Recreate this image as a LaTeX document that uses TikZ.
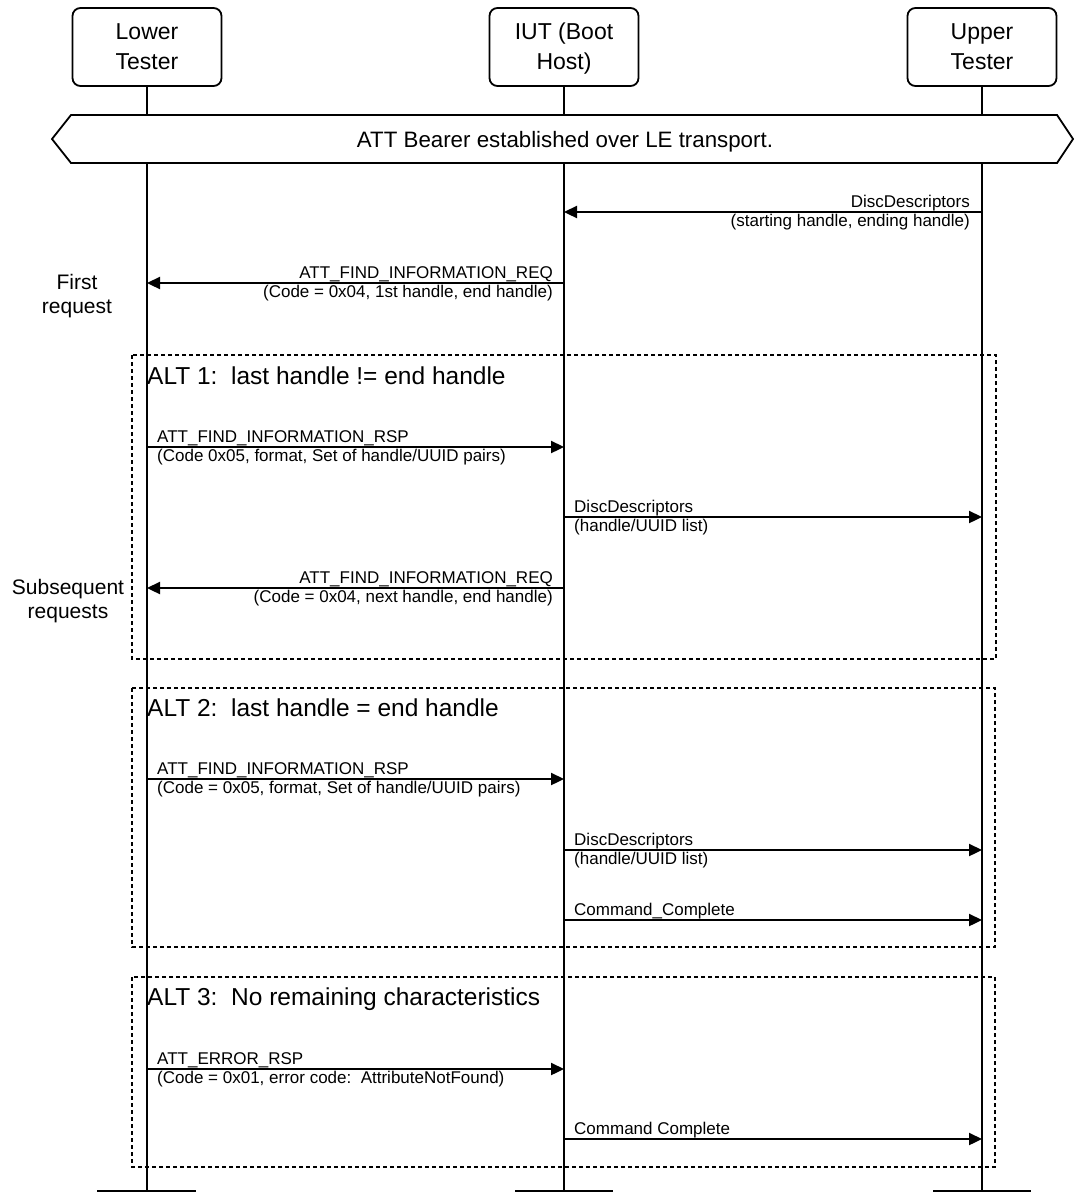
\documentclass[tikz,border=0pt]{standalone}
\usepackage{fontspec}
\setmainfont{Liberation Sans}
\usetikzlibrary{arrows.meta}
\begin{document}
\begin{tikzpicture}[x=1pt,y=-1pt,
 actor/.style={draw,line width=1.8pt,rounded corners=8pt,minimum width=149pt,minimum height=78pt,align=center,font=\fontsize{23}{30}\selectfont,inner sep=0pt},
 actortext/.style={align=center,font=\fontsize{23}{30}\selectfont,inner sep=0pt},
 life/.style={line width=1.8pt},
 msg/.style={line width=2.3pt,-{Triangle[length=13pt,width=12pt]}},
 lblE/.style={font=\fontsize{17}{20}\selectfont,inner sep=0pt,anchor=base east},
 lblW/.style={font=\fontsize{17}{20}\selectfont,inner sep=0pt,anchor=base west},
 altbox/.style={line width=1.9pt,dash pattern=on 4pt off 3pt},
 alttitle/.style={font=\fontsize{24.5}{28}\selectfont,inner sep=0pt,anchor=base west},
 side/.style={font=\fontsize{21}{24}\selectfont,align=center,inner sep=0pt},
 bar/.style={line width=2pt},
]
\useasboundingbox (0,0) rectangle (1074,1192);
% actors
\node[actor] (lt) at (147,47) {Lower\\Tester};
\node[actor] (iut) at (564,47) {};
\node[actortext] (iutlbl) at (564,49) {IUT (Boot\\Host)};
\node[actor] (ut) at (982,47) {Upper\\Tester};
\coordinate (ltend) at (147,1192);
\coordinate (iutend) at (564,1192);
\coordinate (utend) at (982,1192);
\draw[life] (lt.south) -- (ltend);
\draw[life] (iut.south) -- (iutend);
\draw[life] (ut.south) -- (utend);
% bottom bars
\coordinate (b1a) at (97,1190.5); \coordinate (b1b) at (196,1190.5);
\coordinate (b2a) at (515,1190.5); \coordinate (b2b) at (613,1190.5);
\coordinate (b3a) at (933,1190.5); \coordinate (b3b) at (1031,1190.5);
\draw[bar] (b1a) -- (b1b);
\draw[bar] (b2a) -- (b2b);
\draw[bar] (b3a) -- (b3b);
% banner
\draw[line width=1.8pt,fill=white] (52,139) -- (71,115) -- (1057,115) -- (1073,139) -- (1057,163) -- (71,163) -- cycle;
\node[font=\fontsize{22.3}{24}\selectfont,inner sep=0pt,anchor=base] (banner) at (565,147) {ATT Bearer established over LE transport.};
% message 1
\coordinate (m1a) at (982,212); \coordinate (m1b) at (564,212);
\draw[msg] (m1a) -- (m1b);
\node[lblE] (m1t) at (970,207) {DiscDescriptors};
\node[lblE] (m1u) at (970,226) {(starting handle, ending handle)};
% message 2
\coordinate (m2a) at (564,283); \coordinate (m2b) at (147,283);
\draw[msg] (m2a) -- (m2b);
\node[lblE] (m2t) at (553,278) {ATT\_FIND\_INFORMATION\_REQ};
\node[lblE] (m2u) at (553,297) {(Code = 0x04, 1st handle, end handle)};
\node[side] (first) at (77,296) {First\\request};
% ALT 1
\draw[altbox] (132,355) rectangle (996,659);
\node[alttitle] (alt1) at (147,384) {ALT 1:\ \ last handle != end handle};
\coordinate (m3a) at (147,447); \coordinate (m3b) at (564,447);
\draw[msg] (m3a) -- (m3b);
\node[lblW] (m3t) at (157,442) {ATT\_FIND\_INFORMATION\_RSP};
\node[lblW] (m3u) at (157,461) {(Code 0x05, format, Set of handle/UUID pairs)};
\coordinate (m4a) at (564,517); \coordinate (m4b) at (982,517);
\draw[msg] (m4a) -- (m4b);
\node[lblW] (m4t) at (574,512) {DiscDescriptors};
\node[lblW] (m4u) at (574,531) {(handle/UUID list)};
\coordinate (m5a) at (564,588); \coordinate (m5b) at (147,588);
\draw[msg] (m5a) -- (m5b);
\node[lblE] (m5t) at (553,583) {ATT\_FIND\_INFORMATION\_REQ};
\node[lblE] (m5u) at (553,602) {(Code = 0x04, next handle, end handle)};
\node[side] (subs) at (68,601) {Subsequent\\requests};
% ALT 2
\draw[altbox] (132,688) rectangle (995,947);
\node[alttitle] (alt2) at (147,716) {ALT 2:\ \ last handle = end handle};
\coordinate (m6a) at (147,779); \coordinate (m6b) at (564,779);
\draw[msg] (m6a) -- (m6b);
\node[lblW] (m6t) at (157,774) {ATT\_FIND\_INFORMATION\_RSP};
\node[lblW] (m6u) at (157,793) {(Code = 0x05, format, Set of handle/UUID pairs)};
\coordinate (m7a) at (564,850); \coordinate (m7b) at (982,850);
\draw[msg] (m7a) -- (m7b);
\node[lblW] (m7t) at (574,845) {DiscDescriptors};
\node[lblW] (m7u) at (574,864) {(handle/UUID list)};
\coordinate (m8a) at (564,920); \coordinate (m8b) at (982,920);
\draw[msg] (m8a) -- (m8b);
\node[lblW] (m8t) at (574,915) {Command\_Complete};
% ALT 3
\draw[altbox] (132,977) rectangle (995,1167);
\node[alttitle] (alt3) at (147,1005) {ALT 3:\ \ No remaining characteristics};
\coordinate (m9a) at (147,1069); \coordinate (m9b) at (564,1069);
\draw[msg] (m9a) -- (m9b);
\node[lblW] (m9t) at (157,1064) {ATT\_ERROR\_RSP};
\node[lblW] (m9u) at (157,1083) {(Code = 0x01, error code:\ \ AttributeNotFound)};
\coordinate (m10a) at (564,1139); \coordinate (m10b) at (982,1139);
\draw[msg] (m10a) -- (m10b);
\node[lblW] (m10t) at (574,1134) {Command Complete};
\end{tikzpicture}
\end{document}
